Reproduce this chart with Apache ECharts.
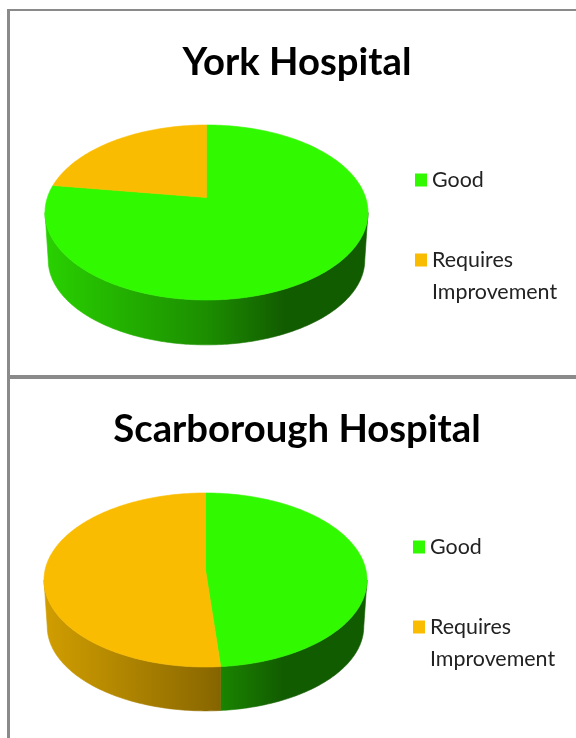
<!DOCTYPE html>
<html>
<head>
<meta charset="utf-8">
<script src="https://cdn.jsdelivr.net/npm/echarts@6/dist/echarts.min.js"></script>
<style>
  html, body { margin: 0; background: #fff; }
  #main { width: 576px; height: 738px; }
</style>
</head>
<body>
<div id="main"></div>
<script>
// data (percent of core services)
var hospitals = ['York Hospital', 'Scarborough Hospital'];
var categories = ['Good', 'Requires Improvement'];
var yorkValues = [80, 20];
var scarboroughValues = [48.5, 51.5];

var chartFont = "Lato, 'Open Sans', sans-serif";
var sliceColors = ['#31f900', '#f9bc00'];
var borderColor = '#8a8a8a';

// where each 3d pie sits on the page
var layouts = [
  { cx: 206.5, cy: 212.5, rx: 161.5, ry: 87.5, lift: 15, depth: 47.5, titleBase: 78, legendLeft: 415, legendTop: 164 },
  { cx: 205.5, cy: 580, rx: 161.5, ry: 87, lift: 10, depth: 46.5, titleBase: 445, legendLeft: 413, legendTop: 531 }
];

// pick font sizes so the words are as wide as in the picture
var measureCtx = document.createElement('canvas').getContext('2d');
function fitSize(text, weight, target) {
  measureCtx.font = weight + ' 100px ' + chartFont;
  return 100 * target / measureCtx.measureText(text).width;
}
var titleSize = (fitSize('York Hospital', 'bold', 228) + fitSize('Scarborough Hospital', 'bold', 369)) / 2;
var legendSize = (fitSize('Improvement', 'normal', 127) + fitSize('Good', 'normal', 51)) / 2;

function shade(hex, f) {
  var n = parseInt(hex.slice(1), 16);
  var r = Math.round(((n >> 16) & 255) * f);
  var g = Math.round(((n >> 8) & 255) * f);
  var b = Math.round((n & 255) * f);
  return 'rgb(' + r + ',' + g + ',' + b + ')';
}

function arc(pts, a, b, cx, cy, rx, ry) {
  var steps = Math.ceil(Math.abs(b - a) / (Math.PI / 180)) + 1;
  for (var i = 0; i <= steps; i++) {
    var t = a + (b - a) * i / steps;
    pts.push([cx + rx * Math.cos(t), cy + ry * Math.sin(t)]);
  }
}

function sliceRenderer(values, geo, index) {
  return function (params, api) {
    var total = 0, before = 0;
    for (var i = 0; i < values.length; i++) {
      total += values[i];
      if (i < index) before += values[i];
    }
    var a0 = -Math.PI / 2 + before / total * Math.PI * 2;
    var a1 = a0 + api.value(0) / total * Math.PI * 2;
    var color = sliceColors[index];
    var children = [];

    // front wall, only the part facing us
    var lo = Math.max(a0, 0), hi = Math.min(a1, Math.PI);
    if (hi > lo) {
      var side = [];
      arc(side, lo, hi, geo.cx, geo.cy, geo.rx, geo.ry);
      arc(side, hi, lo, geo.cx, geo.cy + geo.depth, geo.rx * 0.98, geo.ry * 0.97);
      var grad = new echarts.graphic.LinearGradient(geo.cx - geo.rx, 0, geo.cx + geo.rx, 0, [
        { offset: 0, color: shade(color, 0.84) },
        { offset: 0.5, color: shade(color, 0.57) },
        { offset: 0.74, color: shade(color, 0.37) },
        { offset: 1, color: shade(color, 0.37) }
      ], true);
      children.push({
        type: 'polygon',
        shape: { points: side },
        style: { fill: grad, stroke: grad, lineWidth: 0.6 }
      });
    }

    var top = [[geo.cx, geo.cy - geo.lift]];
    arc(top, a0, a1, geo.cx, geo.cy, geo.rx, geo.ry);
    children.push({
      type: 'polygon',
      shape: { points: top },
      style: { fill: color, stroke: color, lineWidth: 0.6 }
    });
    return { type: 'group', children: children };
  };
}

var allValues = [yorkValues, scarboroughValues];
var titles = [], legends = [], series = [];

allValues.forEach(function (values, p) {
  var geo = layouts[p];
  titles.push({
    text: hospitals[p],
    left: 297,
    top: geo.titleBase - 0.9 * titleSize,
    padding: 0,
    textAlign: 'center',
    textStyle: { fontFamily: chartFont, fontSize: titleSize, fontWeight: 'bold', color: '#000' }
  });
  legends.push({
    orient: 'vertical',
    left: geo.legendLeft,
    top: geo.legendTop,
    padding: 0,
    itemWidth: 12,
    itemHeight: 13,
    itemGap: 16,
    icon: 'rect',
    selectedMode: false,
    data: categories,
    // leading blank line keeps the box on the first text line
    formatter: function (name) {
      return name === 'Requires Improvement' ? '\nRequires\nImprovement' : name;
    },
    textStyle: { fontFamily: chartFont, fontSize: legendSize, lineHeight: 32, color: '#222' }
  });
  values.forEach(function (v, i) {
    series.push({
      type: 'custom',
      name: categories[i],
      coordinateSystem: 'none',
      silent: true,
      itemStyle: { color: sliceColors[i] },
      renderItem: sliceRenderer(values, geo, i),
      data: [{ name: categories[i], value: v }]
    });
  });
});

var chart = echarts.init(document.getElementById('main'), null, { renderer: 'canvas' });
chart.setOption({
  backgroundColor: '#fff',
  animation: false,
  title: titles,
  legend: legends,
  graphic: [
    { type: 'rect', shape: { x: 7, y: 9, width: 569, height: 2 }, style: { fill: borderColor } },
    { type: 'rect', shape: { x: 7, y: 9, width: 3, height: 729 }, style: { fill: borderColor } },
    { type: 'rect', shape: { x: 7, y: 375, width: 569, height: 4 }, style: { fill: borderColor } }
  ],
  series: series
});
</script>
</body>
</html>
